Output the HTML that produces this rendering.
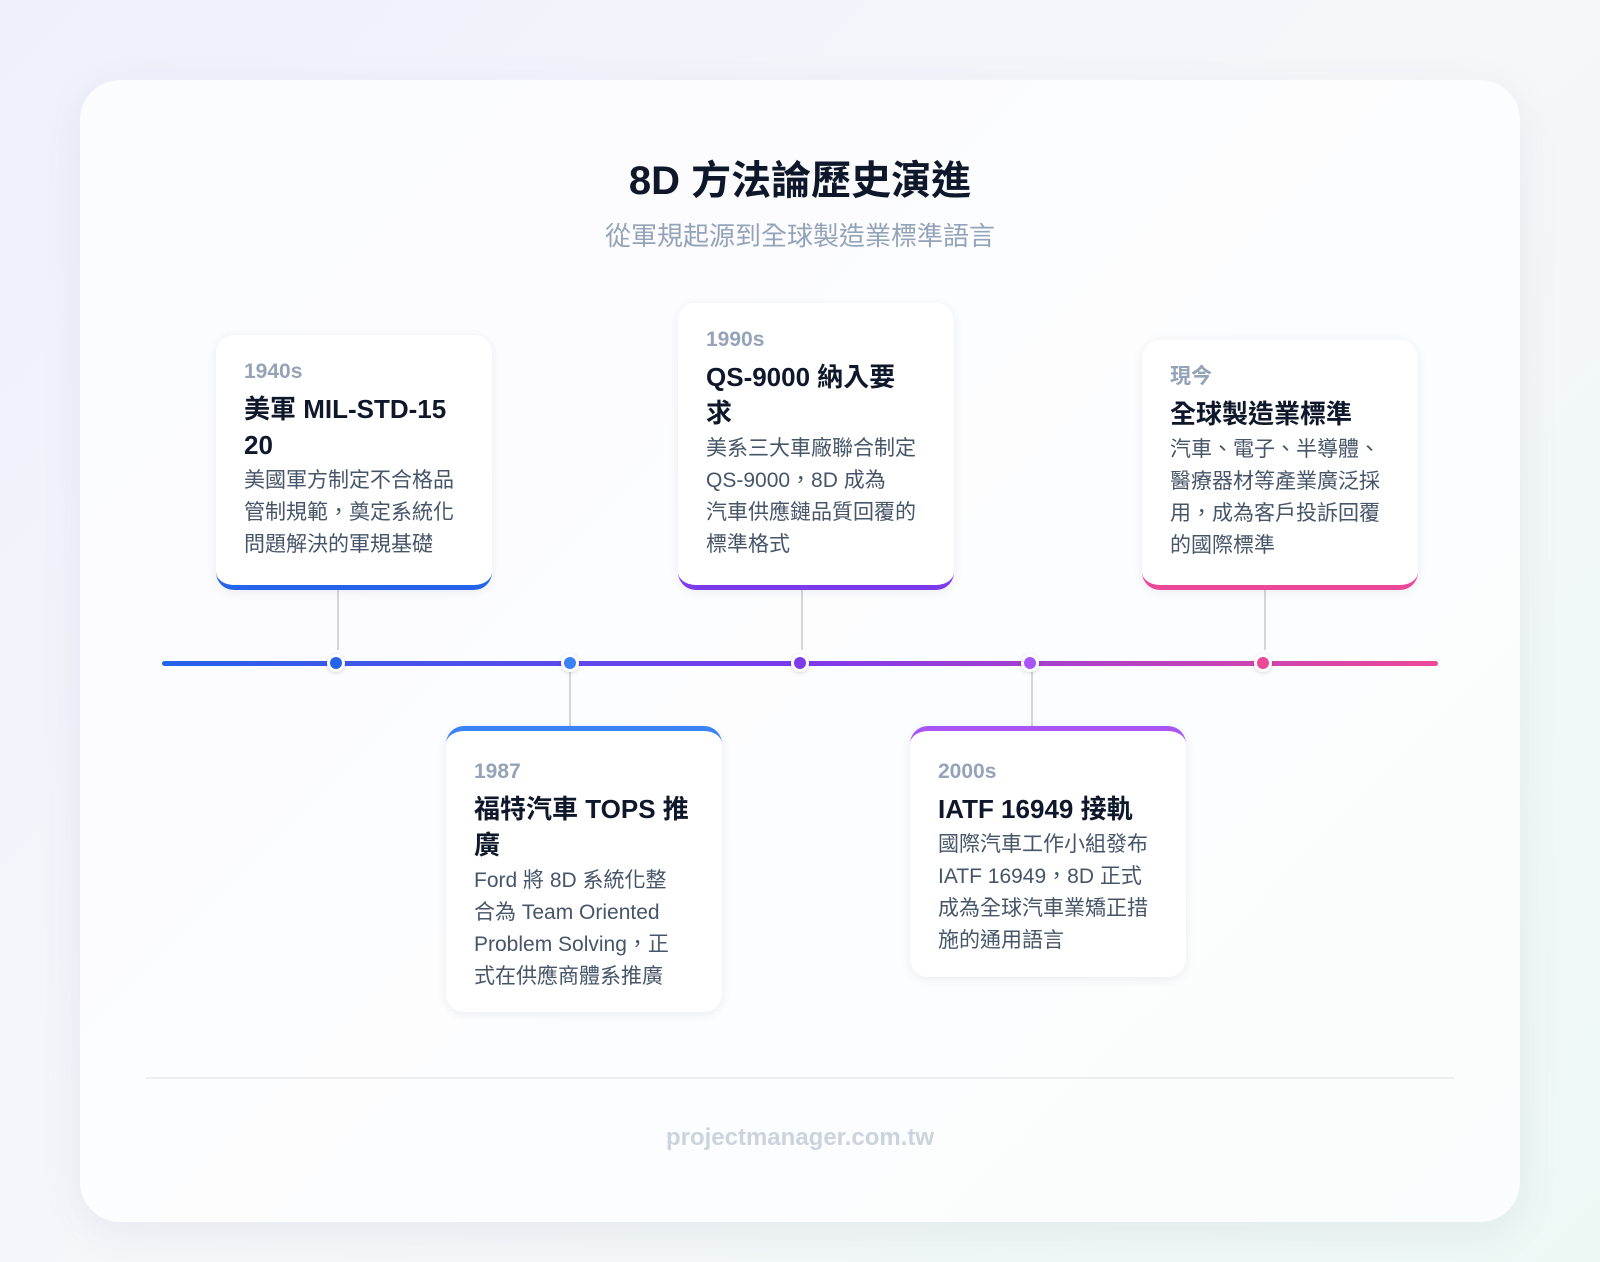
<!DOCTYPE html>
<html><head><meta charset="utf-8"><style>
*{margin:0;padding:0;box-sizing:border-box}
body{width:1600px;height:1262px;overflow:hidden;font-family:"Liberation Sans","Noto Sans CJK TC",sans-serif;background:linear-gradient(135deg,#eef1fb 0%,#f6f7fb 50%,#edf8f5 100%);position:relative}
.main{position:absolute;left:80px;top:80px;width:1440px;height:1142px;border-radius:40px;background:rgba(255,255,255,0.72);box-shadow:0 10px 40px rgba(100,110,140,0.10)}
.t{position:absolute;left:0;width:1600px;text-align:center}
.title{top:148px;font-size:40px;font-weight:bold;color:#0f172a}
.sub{top:216px;font-size:26px;color:#94a3b8}
.line{position:absolute;left:162px;top:661px;width:1276px;height:5px;border-radius:3px;background:linear-gradient(90deg,#2563eb,#7c3aed 50%,#ec4899)}
.dot{position:absolute;width:18px;height:18px;border-radius:50%;border:3px solid #fff;box-shadow:0 1px 4px rgba(0,0,0,.15);top:654px}
.conn{position:absolute;width:2px;background:#d4d6da}
.card{position:absolute;width:276px;background:#fff;border-radius:18px;box-shadow:0 2px 10px rgba(30,40,70,0.08);padding:22px 28px 0 28px}
.d{font-size:21px;font-weight:bold;color:#94a3b8;line-height:30px}
.h{font-size:26px;font-weight:bold;color:#0f172a;line-height:36px;margin-top:4px}
.p{font-size:21px;color:#475569;line-height:32px;margin-top:2px}
.sep{position:absolute;left:146px;top:1077px;width:1308px;height:2px;background:#eceef0}
.foot{top:1124px;font-size:24px;font-weight:bold;color:#cbd3de}
</style></head><body>
<div class="main"></div>
<div class="t title">8D 方法論歷史演進</div>
<div class="t sub">從軍規起源到全球製造業標準語言</div>

<div class="conn" style="left:337px;top:590px;height:60px"></div>
<div class="conn" style="left:569px;top:668px;height:60px"></div>
<div class="conn" style="left:801px;top:590px;height:60px"></div>
<div class="conn" style="left:1031px;top:668px;height:60px"></div>
<div class="conn" style="left:1264px;top:590px;height:60px"></div>

<div class="line"></div>
<div class="dot" style="left:327px;background:#2563eb"></div>
<div class="dot" style="left:561px;background:#3b82f6"></div>
<div class="dot" style="left:791px;background:#7c3aed"></div>
<div class="dot" style="left:1021px;background:#a855f7"></div>
<div class="dot" style="left:1254px;background:#ec4899"></div>

<div class="card" style="left:216px;top:335px;height:255px;border-bottom:5px solid #2563eb">
<div class="d">1940s</div><div class="h">美軍 MIL-STD-15<br>20</div>
<div class="p">美國軍方制定不合格品管制規範，奠定系統化問題解決的軍規基礎</div></div>

<div class="card" style="left:678px;top:303px;height:287px;border-bottom:5px solid #7c3aed">
<div class="d">1990s</div><div class="h">QS-9000 納入要<br>求</div>
<div class="p">美系三大車廠聯合制定<br>QS-9000，8D 成為<br>汽車供應鏈品質回覆的<br>標準格式</div></div>

<div class="card" style="left:1142px;top:340px;height:250px;border-bottom:5px solid #ec4899">
<div class="d">現今</div><div class="h">全球製造業標準</div>
<div class="p">汽車、電子、半導體、<br>醫療器材等產業廣泛採<br>用，成為客戶投訴回覆<br>的國際標準</div></div>

<div class="card" style="left:446px;top:726px;height:286px;border-top:5px solid #3b82f6;padding-top:26px">
<div class="d">1987</div><div class="h">福特汽車 TOPS 推<br>廣</div>
<div class="p">Ford 將 8D 系統化整<br>合為 Team Oriented<br>Problem Solving，正<br>式在供應商體系推廣</div></div>

<div class="card" style="left:910px;top:726px;height:251px;border-top:5px solid #a855f7;padding-top:26px">
<div class="d">2000s</div><div class="h">IATF 16949 接軌</div>
<div class="p">國際汽車工作小組發布<br>IATF 16949，8D 正式<br>成為全球汽車業矯正措<br>施的通用語言</div></div>

<div class="sep"></div>
<div class="t foot">projectmanager.com.tw</div>
</body></html>
